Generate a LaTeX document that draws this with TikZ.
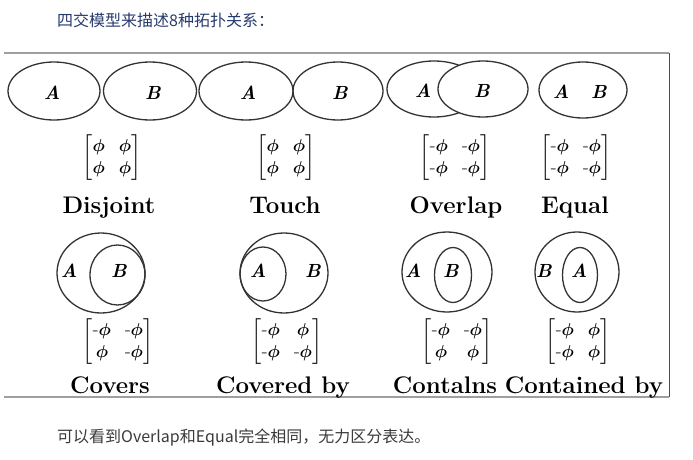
\documentclass[tikz,border=0pt]{standalone}
\usepackage{fontspec}
\usepackage{amsmath,amssymb}
\usepackage{tikz}
\usetikzlibrary{shapes.geometric}
\newfontfamily\cjk{Noto Sans CJK SC}
\definecolor{headblue}{RGB}{38,58,108}
\definecolor{notegray}{RGB}{58,58,58}
\newcommand{\setE}{\boldsymbol{\phi}}
\newcommand{\nsetE}{\mbox{-}\boldsymbol{\phi}}

\begin{document}
\begin{tikzpicture}[x=1pt, y=-1pt]
    \tikzstyle{region} = [ellipse, draw=black!80, line width=1.3pt, inner sep=0pt]
    \tikzstyle{letter} = [font=\fontsize{19}{19}\selectfont\bfseries\itshape, inner sep=0pt]
    \tikzstyle{mat} = [font=\fontsize{19}{22}\selectfont\setlength{\arraycolsep}{7pt}, inner sep=0pt]
    \tikzstyle{relname} = [font=\fontsize{24}{24}\selectfont\bfseries, anchor=base, inner sep=0pt]
    \tikzstyle{note} = [font=\cjk\fontsize{16}{16}\selectfont, anchor=west, inner sep=0pt]

    \useasboundingbox (0,0) rectangle (693,460);

    % frame of the figure
    \draw [gray!75, line width=1.4pt] (4,53) -- (669,53);
    \draw [gray!75, line width=1.1pt] (4,397) -- (669,397);
    \draw [black!70, line width=1pt] (669,53) -- (669,397);

    \node [note, text=headblue] (head) at (57,20) {四交模型来描述8种拓扑关系：};
    \node [note, text=notegray] (foot) at (57,438) {可以看到Overlap和Equal完全相同，无力区分表达。};

    % first row
    \node [region, minimum width=92pt, minimum height=58pt] (disjA) at (54,91) {};
    \node [region, minimum width=93pt, minimum height=58pt] (disjB) at (150,91) {};
    \node [region, minimum width=94pt, minimum height=58pt] (touchA) at (246,91) {};
    \node [region, minimum width=90pt, minimum height=58pt] (touchB) at (338,91) {};
    \node [region, minimum width=94pt, minimum height=56pt] (overA) at (434,89) {};
    \node [region, fill=white, minimum width=90pt, minimum height=56pt] (overB) at (483,89) {};
    \node [region, minimum width=88pt, minimum height=56pt] (equalAB) at (583,90) {};

    \node [letter] (disjAt) at (52,93) {A};
    \node [letter] (disjBt) at (153,93) {B};
    \node [letter] (touchAt) at (248,93) {A};
    \node [letter] (touchBt) at (340,93) {B};
    \node [letter] (overAt) at (423,91) {A};
    \node [letter] (overBt) at (482,91) {B};
    \node [letter] (equalAt) at (561,92) {A};
    \node [letter] (equalBt) at (599,92) {B};

    \node [mat] (disjM) at (112,158) {$\begin{bmatrix} \setE & \setE \\ \setE & \setE \end{bmatrix}$};
    \node [mat] (touchM) at (286,158) {$\begin{bmatrix} \setE & \setE \\ \setE & \setE \end{bmatrix}$};
    \node [mat] (overM) at (455,158) {$\begin{bmatrix} \nsetE & \nsetE \\ \nsetE & \nsetE \end{bmatrix}$};
    \node [mat] (equalM) at (576,158) {$\begin{bmatrix} \nsetE & \nsetE \\ \nsetE & \nsetE \end{bmatrix}$};

    \node [relname] (disjN) at (109,213) {Disjoint};
    \node [relname] (touchN) at (285,213) {Touch};
    \node [relname] (overN) at (456,213) {Overlap};
    \node [relname] (equalN) at (575,213) {Equal};

    % second row
    \node [region, minimum width=88pt, minimum height=80pt] (covOut) at (101,273) {};
    \node [region, minimum width=55pt, minimum height=60pt] (covIn) at (117.5,275) {};
    \node [region, minimum width=88pt, minimum height=80pt] (cbyOut) at (284,273) {};
    \node [region, minimum width=46pt, minimum height=54pt] (cbyIn) at (263,274) {};
    \node [region, minimum width=90pt, minimum height=80pt] (conOut) at (447,272) {};
    \node [region, minimum width=37pt, minimum height=55pt] (conIn) at (453,275) {};
    \node [region, minimum width=84pt, minimum height=80pt] (cdbOut) at (577,272) {};
    \node [region, minimum width=35pt, minimum height=55pt] (cdbIn) at (580,275) {};

    \node [letter] (covAt) at (69,271) {A};
    \node [letter] (covBt) at (119,271) {B};
    \node [letter] (cbyAt) at (258,271) {A};
    \node [letter] (cbyBt) at (313,271) {B};
    \node [letter] (conAt) at (413,271) {A};
    \node [letter] (conBt) at (451,271) {B};
    \node [letter] (cdbBt) at (544,271) {B};
    \node [letter] (cdbAt) at (579,271) {A};

    \node [mat] (covM) at (118,342) {$\begin{bmatrix} \nsetE & \nsetE \\ \setE & \nsetE \end{bmatrix}$};
    \node [mat] (cbyM) at (287,342) {$\begin{bmatrix} \nsetE & \setE \\ \nsetE & \nsetE \end{bmatrix}$};
    \node [mat] (conM) at (457,342) {$\begin{bmatrix} \nsetE & \nsetE \\ \setE & \setE \end{bmatrix}$};
    \node [mat] (cdbM) at (578,342) {$\begin{bmatrix} \nsetE & \setE \\ \nsetE & \setE \end{bmatrix}$};

    \node [relname] (covN) at (110,393) {Covers};
    \node [relname] (cbyN) at (283,393) {Covered by};
    \node [relname] (conN) at (445,393) {Contalns};
    \node [relname] (cdbN) at (584,393) {Contained by};
\end{tikzpicture}
\end{document}
